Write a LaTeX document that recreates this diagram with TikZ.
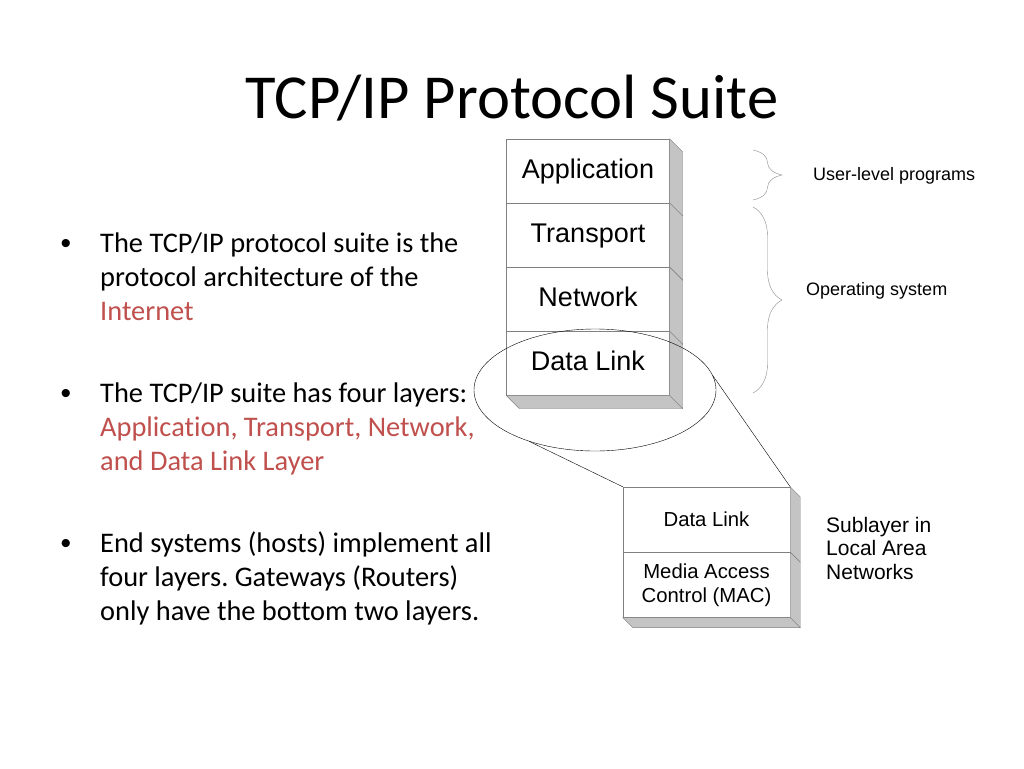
\documentclass[tikz,border=0pt]{standalone}
\usepackage{fontspec}
\usepackage{xcolor}
\usepackage{tikz}
\usetikzlibrary{positioning,shapes.geometric,decorations.pathreplacing,calc}
\setmainfont{Carlito}[Ligatures={NoCommon}]
\newfontfamily\arialfont{Liberation Sans}
\definecolor{accent}{HTML}{C0504D}
\definecolor{edge}{HTML}{808080}
\definecolor{side}{HTML}{C4C4C4}
\definecolor{bracegray}{HTML}{8C8C8C}
\frenchspacing

\begin{document}
\begin{tikzpicture}[
  x=1pt,y=-1pt,
  para/.style={align=left,inner sep=0pt,font=\fontsize{28.4}{34}\selectfont},
  dot/.style={inner sep=0pt,font=\arialfont\fontsize{30}{34}\selectfont},
  layer/.style={draw=edge,fill=white,minimum width=163,minimum height=63.75,inner sep=0pt,text height=19.5,text depth=5.5,font=\arialfont\fontsize{27}{30}\selectfont},
  sublayer/.style={draw=edge,fill=white,minimum width=167,minimum height=65,inner sep=0pt,align=center,font=\arialfont\fontsize{20.3}{24}\selectfont},
  note/.style={inner sep=0pt,align=left,font=\arialfont\fontsize{18}{21}\selectfont},
  face/.style={draw=edge,fill=side},
  curly/.style={draw=bracegray,decorate,decoration={brace,amplitude=29pt,aspect=0.5}}
]
\fill[white] (0,0) rectangle (1024,768);
\useasboundingbox (0,0) rectangle (1024,768);

% title
\node[anchor=base,inner sep=0pt,font=\fontsize{62.6}{70}\selectfont] (title) at (512,118) {TCP/IP Protocol Suite};

% bullets (base = last line)
\node[para,anchor=base west] (b1) at (100,320) {The TCP/IP protocol suite is the\\protocol architecture of the\\\textcolor{accent}{Internet}};
\node[para,anchor=base west] (b2) at (100,470) {The TCP/IP suite has four layers:\\\textcolor{accent}{Application, Transport, Network,}\\\textcolor{accent}{and Data Link Layer}};
\node[para,anchor=base west] (b3) at (100,620) {End systems (hosts) implement all\\four layers. Gateways (Routers)\\only have the bottom two layers.};
\foreach \b in {b1,b2,b3}
  \node[dot,anchor=base] at ([shift={(-34,-67)}]\b.base west) {•};

% protocol stack
\node[layer] (app) at (588,171) {Application};
\node[layer,below=0pt of app] (tra) {Transport};
\node[layer,below=0pt of tra] (net) {Network};
\node[layer,below=0pt of net] (dl) {Data Link};
\foreach \n in {app,tra,net,dl}
  \draw[face] (\n.north east) -- ++(13,13) -- ([shift={(13,13)}]\n.south east) -- (\n.south east) -- cycle;
\draw[face] (dl.south west) -- (dl.south east) -- ++(13,13) -- ([shift={(13,13)}]dl.south west) -- cycle;

% braces
\coordinate (u1) at (753,150); \coordinate (u2) at (753,200);
\coordinate (o1) at (753,207); \coordinate (o2) at (753,393);
\draw[curly] (u1) -- (u2);
\draw[curly] (o1) -- (o2);
\node[note,anchor=west] (user) at (813,176) {User-level programs};
\node[note,anchor=west] (os) at (806,291) {Operating system};

% sublayers
\node[sublayer] (sdl) at (706.5,519.5) {Data Link};
\node[sublayer,below=0pt of sdl] (mac) {Media Access\\Control (MAC)};
\foreach \n in {sdl,mac}
  \draw[face] (\n.north east) -- ++(10,10) -- ([shift={(10,10)}]\n.south east) -- (\n.south east) -- cycle;
\draw[face] (mac.south west) -- (mac.south east) -- ++(10,10) -- ([shift={(10,10)}]mac.south west) -- cycle;
\node[note,anchor=north west,font=\arialfont\fontsize{21}{23.5}\selectfont] (lan) at (826,517) {Sublayer in\\Local Area\\Networks};

% zoom ring
\node[draw,ellipse,minimum width=242,minimum height=122,inner sep=0pt] (ring) at (595,390) {};
\draw (ring.218) -- (sdl.north west);
\draw (ring.7.5) -- (sdl.north east);
\end{tikzpicture}
\end{document}
